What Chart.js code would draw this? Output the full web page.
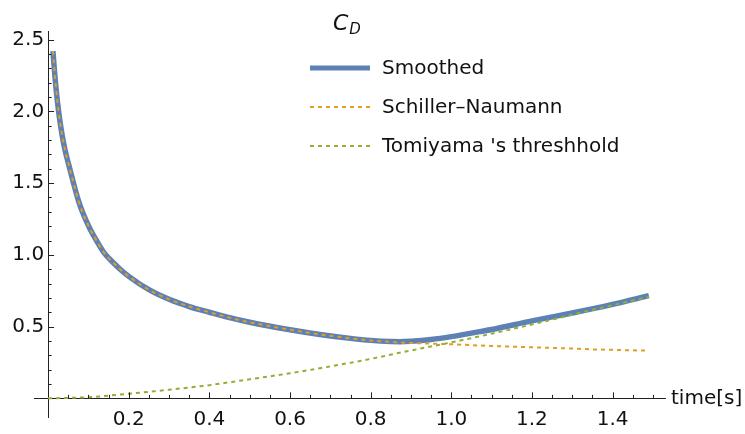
<!DOCTYPE html>
<html>
<head>
<meta charset="utf-8">
<script src="https://cdn.jsdelivr.net/npm/chart.js@4.4.1/dist/chart.umd.min.js"></script>
<style>
  html, body { margin: 0; padding: 0; background: #fff; }
  #wrap { width: 745px; height: 434px; }
</style>
</head>
<body>
<div id="wrap"><canvas id="chart"></canvas></div>
<script>
// drag coefficient vs time
const timeDrag = [0.012, 0.015, 0.02, 0.026, 0.035, 0.042, 0.05, 0.063, 0.075, 0.085, 0.104, 0.12, 0.14, 0.16, 0.18, 0.2, 0.25, 0.3, 0.35, 0.4, 0.45, 0.5, 0.6, 0.674, 0.75, 0.8, 0.85, 0.872, 0.9, 0.95, 1.0, 1.07, 1.1, 1.2, 1.3, 1.343, 1.4, 1.49];
const smoothed = [2.42, 2.31, 2.15, 2.0, 1.83, 1.73, 1.64, 1.5, 1.38, 1.3, 1.18, 1.1, 1.01, 0.95, 0.896, 0.85, 0.757, 0.69, 0.64, 0.6, 0.562, 0.53, 0.478, 0.445, 0.418, 0.404, 0.396, 0.395, 0.398, 0.41, 0.43, 0.465, 0.48, 0.54, 0.595, 0.62, 0.655, 0.716];
const schillerNaumann = [2.42, 2.31, 2.15, 2.0, 1.83, 1.73, 1.64, 1.5, 1.38, 1.3, 1.18, 1.1, 1.01, 0.95, 0.896, 0.85, 0.757, 0.69, 0.64, 0.6, 0.562, 0.53, 0.478, 0.445, 0.418, 0.403, 0.393, 0.389, 0.386, 0.381, 0.377, 0.368, 0.365, 0.356, 0.347, 0.342, 0.338, 0.332];

const timeTomiyama = [0, 0.1, 0.2, 0.3, 0.4, 0.476, 0.6, 0.674, 0.8, 0.872, 0.988, 1.07, 1.2, 1.343, 1.49];
const tomiyama = [0, 0.008, 0.032, 0.06, 0.092, 0.123, 0.175, 0.21, 0.275, 0.318, 0.383, 0.432, 0.515, 0.612, 0.708];

const xMajorTicks = [0.2, 0.4, 0.6, 0.8, 1.0, 1.2, 1.4];
const yMajorTicks = [0.5, 1.0, 1.5, 2.0, 2.5];

const seriesNames = ['Smoothed', 'Schiller\u2013Naumann', "Tomiyama 's threshhold"];
const colors = ['#5E81B5', '#E19C24', '#8FB032'];

const FONT = "'DejaVu Sans', 'Liberation Sans', Arial, sans-serif";

const toPoints = (xs, ys) => xs.map((x, i) => ({ x: x, y: ys[i] }));

// Mathematica-style inward ticks, title, axis label and legend
const decorations = {
    id: 'decorations',
    afterDraw(chart) {
        const ctx = chart.ctx;
        const xs = chart.scales.x, ys = chart.scales.y;
        const x0 = xs.getPixelForValue(0), y0 = ys.getPixelForValue(0);
        ctx.save();
        ctx.strokeStyle = '#222';
        ctx.lineWidth = 1;
        ctx.beginPath();
        for (let i = 1; i <= 30; i++) {
            const px = Math.round(xs.getPixelForValue(i * 0.05)) + 0.5;
            const len = (i % 4 === 0) ? 6 : 3.5;
            ctx.moveTo(px, y0);
            ctx.lineTo(px, y0 - len);
        }
        for (let i = 1; i <= 25; i++) {
            const py = Math.round(ys.getPixelForValue(i * 0.1)) + 0.5;
            const len = (i % 5 === 0) ? 6 : 3.5;
            ctx.moveTo(x0, py);
            ctx.lineTo(x0 + len, py);
        }
        ctx.stroke();

        // title C_D
        ctx.fillStyle = '#111';
        ctx.textBaseline = 'alphabetic';
        ctx.textAlign = 'left';
        ctx.font = 'italic 22px ' + FONT;
        ctx.fillText('C', 333, 30);
        const cw = ctx.measureText('C').width;
        ctx.font = 'italic 15px ' + FONT;
        ctx.fillText('D', 333 + cw + 1, 34);

        // axis label
        ctx.font = '20px ' + FONT;
        ctx.textBaseline = 'middle';
        ctx.fillText('time[s]', 671, 399);

        // legend
        const rows = [68, 107, 146];
        chart.data.datasets.forEach((ds, i) => {
            ctx.strokeStyle = ds.borderColor;
            ctx.lineWidth = i === 0 ? 5 : 2;
            ctx.setLineDash(ds.borderDash || []);
            ctx.beginPath();
            ctx.moveTo(310, rows[i]);
            ctx.lineTo(370, rows[i]);
            ctx.stroke();
            ctx.setLineDash([]);
            ctx.fillStyle = '#111';
            ctx.font = '20px ' + FONT;
            ctx.fillText(ds.label, 382, rows[i] + 1);
        });
        ctx.restore();
    }
};

new Chart(document.getElementById('chart'), {
    type: 'line',
    data: {
        datasets: [
            {
                label: seriesNames[0],
                data: toPoints(timeDrag, smoothed),
                borderColor: colors[0],
                borderWidth: 5.5,
                order: 2
            },
            {
                label: seriesNames[1],
                data: toPoints(timeDrag, schillerNaumann),
                borderColor: colors[1],
                borderWidth: 2,
                borderDash: [4, 4],
                order: 1
            },
            {
                label: seriesNames[2],
                data: toPoints(timeTomiyama, tomiyama),
                borderColor: colors[2],
                borderWidth: 2,
                borderDash: [4, 4],
                order: 0
            }
        ]
    },
    options: {
        responsive: true,
        maintainAspectRatio: false,
        animation: false,
        events: [],
        layout: { padding: { left: 34, right: 80, top: 31, bottom: 17 } },
        elements: {
            point: { radius: 0 },
            line: { cubicInterpolationMode: 'monotone', fill: false }
        },
        plugins: {
            legend: { display: false },
            tooltip: { enabled: false },
            title: { display: false }
        },
        scales: {
            x: {
                type: 'linear',
                min: -0.035,
                max: 1.53,
                position: { y: 0 },
                afterBuildTicks: s => { s.ticks = xMajorTicks.map(v => ({ value: v })); },
                grid: { display: true, drawOnChartArea: false, drawTicks: false, color: 'rgba(0,0,0,0)' },
                border: { display: true, color: '#222', width: 1 },
                ticks: {
                    autoSkip: false,
                    maxRotation: 0,
                    padding: 9,
                    color: '#111',
                    font: { family: FONT, size: 20 },
                    callback: v => v.toFixed(1)
                }
            },
            y: {
                type: 'linear',
                min: -0.13,
                max: 2.56,
                position: { x: 0 },
                afterBuildTicks: s => { s.ticks = yMajorTicks.map(v => ({ value: v })); },
                grid: { display: true, drawOnChartArea: false, drawTicks: false, color: 'rgba(0,0,0,0)' },
                border: { display: true, color: '#222', width: 1 },
                ticks: {
                    autoSkip: false,
                    color: '#111',
                    font: { family: FONT, size: 20 },
                    // padding is ignored for a data-positioned axis, so a thin space keeps the gap
                    callback: v => v.toFixed(1) + '\u2009'
                }
            }
        }
    },
    plugins: [decorations]
});
</script>
</body>
</html>
